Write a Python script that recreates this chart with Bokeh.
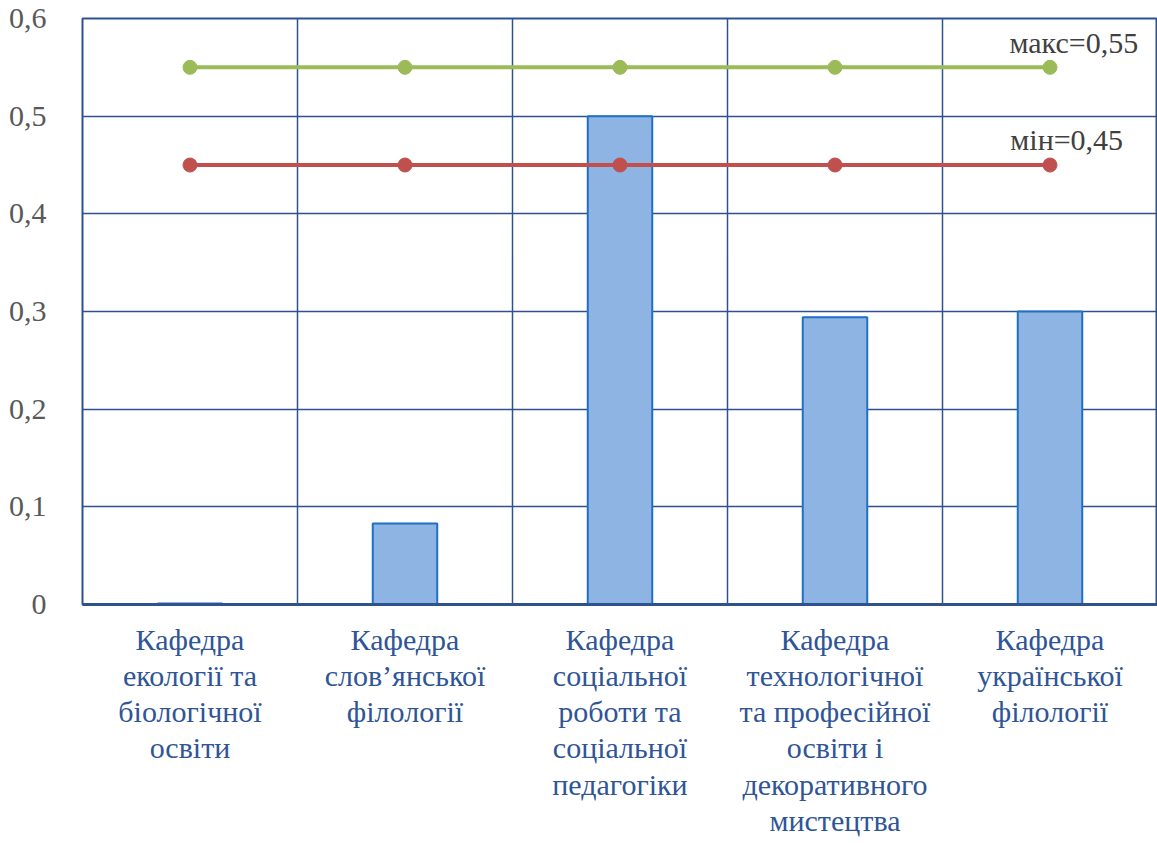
from bokeh.plotting import figure
from bokeh.models import FixedTicker, Label, ColumnDataSource, Range1d
from bokeh.embed import file_html
from bokeh.resources import INLINE

categories = [
    "Кафедра\nекології та\nбіологічної\nосвіти",
    "Кафедра\nслов’янської\nфілології",
    "Кафедра\nсоціальної\nроботи та\nсоціальної\nпедагогіки",
    "Кафедра\nтехнологічної\nта професійної\nосвіти і\nдекоративного\nмистецтва",
    "Кафедра\nукраїнської\nфілології",
]
values = [0.001, 0.083, 0.5, 0.294, 0.3]
max_line = [0.55, 0.55, 0.55, 0.55, 0.55]
min_line = [0.45, 0.45, 0.45, 0.45, 0.45]
y_ticks = [0, 0.1, 0.2, 0.3, 0.4, 0.5, 0.6]
y_tick_labels = ["0", "0,1", "0,2", "0,3", "0,4", "0,5", "0,6"]
max_label = "макс=0,55"
min_label = "мін=0,45"

xs = [i + 0.5 for i in range(len(categories))]
src = ColumnDataSource(dict(x=xs, v=values, mx=max_line, mn=min_line))

FONT = "Liberation Serif"
GRID = "#2F528F"

p = figure(width=1157, height=843, output_backend="svg", toolbar_location=None,
           x_range=Range1d(0, 5), y_range=Range1d(0, 0.6),
           min_border_left=82, min_border_right=0, min_border_top=18,
           min_border_bottom=239)
p.outline_line_color = GRID
p.outline_line_width = 2
p.background_fill_color = "white"
p.border_fill_color = "white"

p.vbar(x="x", top="v", width=0.3, bottom=0, source=src,
       fill_color="#8EB4E3", line_color="#1F6FC5", line_width=2)

p.line(x="x", y="mx", source=src, line_color="#9BBB59", line_width=4)
p.scatter(x="x", y="mx", source=src, size=14, fill_color="#9BBB59", line_color="#9BBB59")
p.line(x="x", y="mn", source=src, line_color="#C0504D", line_width=4)
p.scatter(x="x", y="mn", source=src, size=14, fill_color="#C0504D", line_color="#C0504D")

p.xaxis.ticker = FixedTicker(ticks=xs)
p.xaxis.major_label_overrides = {x: c for x, c in zip(xs, categories)}
p.xaxis.major_label_text_font = FONT
p.xaxis.major_label_text_font_size = "30px"
p.xaxis.major_label_text_color = "#2F5597"
p.xaxis.major_label_text_line_height = 1.1
p.xaxis.major_label_standoff = 12
p.xaxis.major_tick_line_color = None
p.xaxis.minor_tick_line_color = None
p.xaxis.axis_line_color = GRID
p.xaxis.axis_line_width = 3

p.yaxis.ticker = FixedTicker(ticks=y_ticks)
p.yaxis.major_label_overrides = {t: l for t, l in zip(y_ticks, y_tick_labels)}
p.yaxis.major_label_text_font = FONT
p.yaxis.major_label_text_font_size = "30px"
p.yaxis.major_label_text_color = "#595959"
p.yaxis.major_label_standoff = 30
p.yaxis.major_tick_line_color = None
p.yaxis.minor_tick_line_color = None
p.yaxis.axis_line_color = None

p.xgrid.ticker = FixedTicker(ticks=[1, 2, 3, 4])
p.xgrid.grid_line_color = GRID
p.xgrid.grid_line_width = 1.5
p.ygrid.ticker = FixedTicker(ticks=y_ticks)
p.ygrid.grid_line_color = GRID
p.ygrid.grid_line_width = 1.5

p.add_layout(Label(x=4.91, y=0.559, text=max_label, text_align="right",
                   text_baseline="bottom", text_font=FONT, text_font_size="30px",
                   text_color="#404040"))
p.add_layout(Label(x=4.84, y=0.459, text=min_label, text_align="right",
                   text_baseline="bottom", text_font=FONT, text_font_size="30px",
                   text_color="#404040"))

open("out.html", "w").write(file_html(p, INLINE))
